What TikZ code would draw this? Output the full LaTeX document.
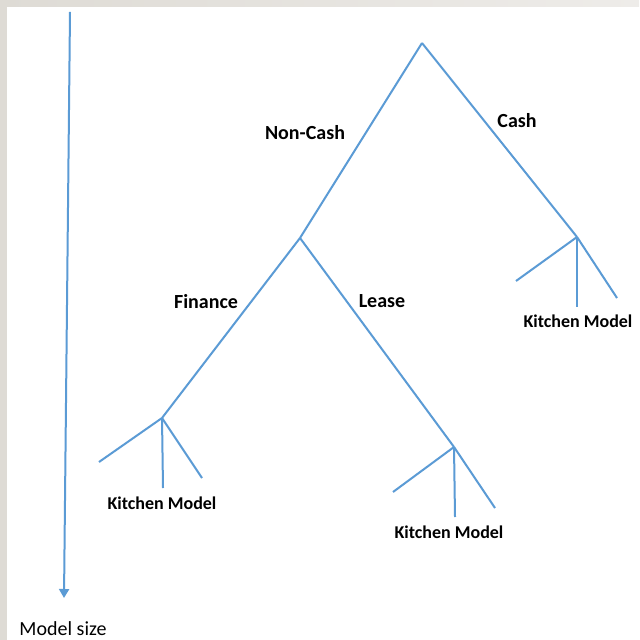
\documentclass[tikz,border=0pt]{standalone}
\usepackage{fontspec}
\setmainfont{Carlito}
\usepackage{tikz}
\usetikzlibrary{arrows.meta}
\definecolor{branchblue}{RGB}{91,155,213}
\definecolor{slidegray}{RGB}{222,219,213}
\definecolor{slidelight}{RGB}{238,236,233}
\tikzset{
    branch/.style={draw=branchblue, line width=1pt},
    choice/.style={font=\bfseries\fontsize{10}{12}\selectfont, inner sep=0pt},
    leaflabel/.style={font=\bfseries\fontsize{9}{11}\selectfont, inner sep=0pt},
    sizearrow/.style={-{Triangle[length=4.5pt, width=5pt]}, draw=branchblue, line width=1pt}
}

\begin{document}
\begin{tikzpicture}[x=0.5pt, y=-0.5pt]
    % slide background
    \fill[white] (0,0) rectangle (639,640);
    \shade[left color=slidegray, right color=slidelight] (0,0) rectangle (639,7);
    \fill[slidegray] (0,0) rectangle (7,640);

    % model size axis
    \coordinate (top) at (70,12);
    \coordinate (bottom) at (64,598);
    \draw[sizearrow] (top) -- (bottom);
    \node (size) at (63,629) [inner sep=0pt, font=\fontsize{10}{12}\selectfont] {Model size};

    % decision points
    \coordinate (root) at (422,43);
    \coordinate (cash) at (577,237);
    \coordinate (noncash) at (300,238);
    \coordinate (finance) at (162,418);
    \coordinate (lease) at (454,447);

    \draw[branch] (root) -- (cash);
    \draw[branch] (root) -- (noncash);
    \draw[branch] (noncash) -- (finance);
    \draw[branch] (noncash) -- (lease);

    \node (lcash) at (517,121) [choice] {Cash};
    \node (lnoncash) at (305,133) [choice] {Non-Cash};
    \node (lfinance) at (206,302) [choice] {Finance};
    \node (llease) at (382,301) [choice] {Lease};

    % kitchen model fans
    \foreach \p/\l/\d/\r in {cash/{516,281}/{577,307}/{617,298},
                             finance/{99,462}/{163,488}/{202,478},
                             lease/{393,492}/{455,517}/{495,508}} {
        \draw[branch] (\p) -- (\l);
        \draw[branch] (\p) -- (\d);
        \draw[branch] (\p) -- (\r);
    }

    \node (kcash) at (578,321) [leaflabel] {Kitchen Model};
    \node (kfinance) at (162,503) [leaflabel] {Kitchen Model};
    \node (klease) at (449,532) [leaflabel] {Kitchen Model};
\end{tikzpicture}
\end{document}
